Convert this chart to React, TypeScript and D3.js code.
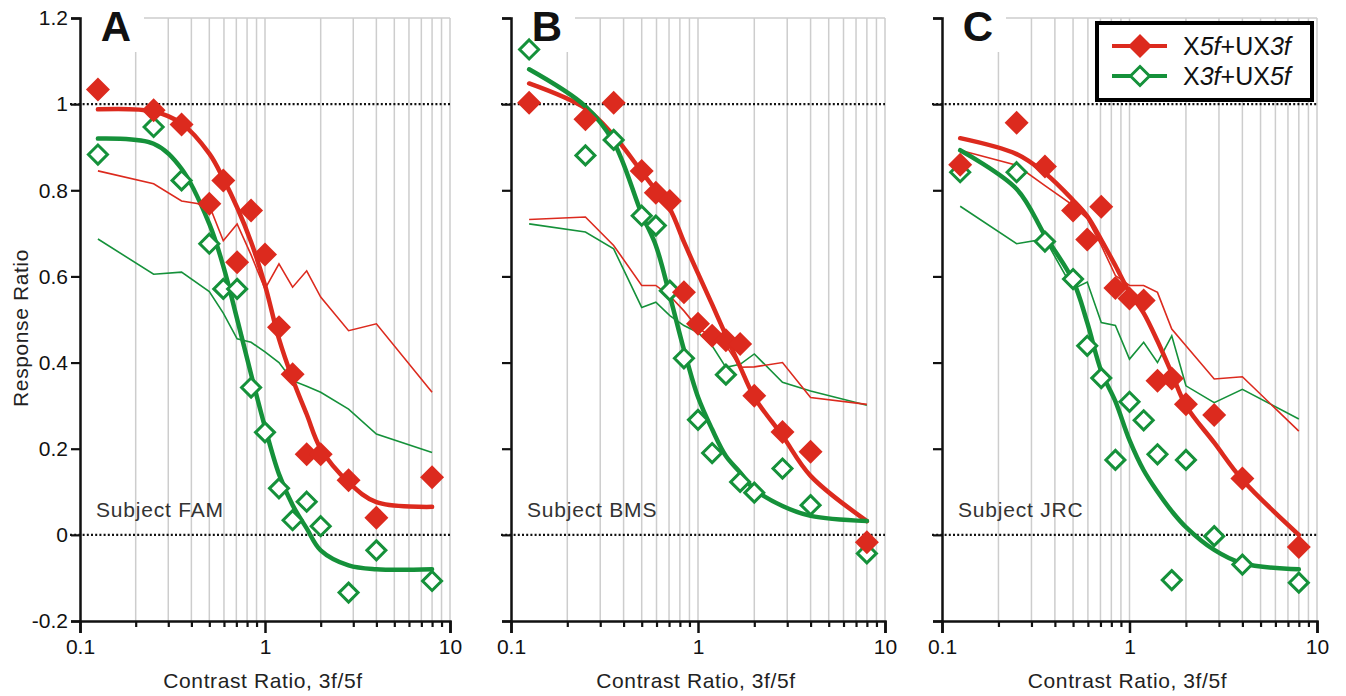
import { useEffect, useRef } from "react";
import * as d3 from "d3";

// contrast ratios (3f/5f) used in every panel
const RATIOS = [0.125, 0.25, 0.354, 0.5, 0.595, 0.707, 0.841, 1, 1.19, 1.41, 1.68, 2, 2.83, 4, 8];

// Subject FAM
const FAM_X5_PTS = [1.034, 0.986, 0.953, 0.769, 0.823, 0.633, 0.753, 0.651, 0.482, 0.373, 0.187, 0.187, 0.127, 0.04, 0.134];
const FAM_X3_PTS = [0.883, 0.947, 0.823, 0.676, 0.571, 0.571, 0.342, 0.238, 0.108, 0.034, 0.077, 0.02, -0.134, -0.036, -0.107];
const FAM_X5_FIT = [0.988, 0.983, 0.955, 0.885, 0.827, 0.76, 0.68, 0.58, 0.455, 0.362, 0.28, 0.2, 0.122, 0.076, 0.065];
const FAM_X3_FIT = [0.92, 0.908, 0.85, 0.722, 0.624, 0.501, 0.373, 0.25, 0.141, 0.069, 0.015, -0.036, -0.071, -0.08, -0.08];
const FAM_X5_MODEL = [0.845, 0.815, 0.775, 0.765, 0.683, 0.722, 0.65, 0.571, 0.629, 0.575, 0.613, 0.552, 0.474, 0.49, 0.331];
const FAM_X3_MODEL = [0.687, 0.605, 0.61, 0.565, 0.515, 0.455, 0.447, 0.425, 0.4, 0.358, 0.345, 0.331, 0.292, 0.234, 0.191];

// Subject BMS
const BMS_X5_PTS = [1.003, 0.965, 1.003, 0.845, 0.794, 0.775, 0.563, 0.49, 0.462, 0.452, 0.443, 0.323, 0.239, 0.193, -0.017];
const BMS_X3_PTS = [1.127, 0.881, 0.917, 0.741, 0.718, 0.567, 0.41, 0.267, 0.19, 0.372, 0.123, 0.098, 0.154, 0.069, -0.043];
const BMS_X5_FIT = [1.048, 0.99, 0.927, 0.843, 0.8, 0.757, 0.68, 0.607, 0.535, 0.463, 0.39, 0.32, 0.23, 0.137, 0.032];
const BMS_X3_FIT = [1.081, 0.995, 0.912, 0.745, 0.672, 0.555, 0.43, 0.32, 0.245, 0.183, 0.145, 0.106, 0.067, 0.044, 0.032];
const BMS_X5_MODEL = [0.732, 0.738, 0.672, 0.579, 0.579, 0.555, 0.52, 0.48, 0.46, 0.44, 0.389, 0.39, 0.4, 0.319, 0.303];
const BMS_X3_MODEL = [0.722, 0.703, 0.664, 0.528, 0.54, 0.509, 0.486, 0.47, 0.439, 0.389, 0.396, 0.42, 0.354, 0.334, 0.301];

// Subject JRC
const JRC_X5_PTS = [0.859, 0.957, 0.855, 0.753, 0.686, 0.762, 0.573, 0.549, 0.544, 0.358, 0.363, 0.303, 0.278, 0.131, -0.028];
const JRC_X3_PTS = [0.842, 0.842, 0.681, 0.594, 0.439, 0.364, 0.174, 0.309, 0.266, 0.187, -0.105, 0.174, -0.003, -0.069, -0.111];
const JRC_X5_FIT = [0.921, 0.884, 0.84, 0.777, 0.74, 0.685, 0.625, 0.563, 0.515, 0.45, 0.375, 0.3, 0.214, 0.128, 0.0];
const JRC_X3_FIT = [0.893, 0.803, 0.695, 0.59, 0.493, 0.38, 0.31, 0.22, 0.15, 0.1, 0.055, 0.018, -0.035, -0.066, -0.08];
const JRC_X5_MODEL = [0.893, 0.858, 0.811, 0.765, 0.734, 0.672, 0.602, 0.579, 0.579, 0.563, 0.478, 0.439, 0.362, 0.367, 0.241];
const JRC_X3_MODEL = [0.763, 0.676, 0.687, 0.571, 0.587, 0.493, 0.486, 0.408, 0.447, 0.4, 0.462, 0.346, 0.307, 0.338, 0.269];

const Y_TICKS = [-0.2, 0, 0.2, 0.4, 0.6, 0.8, 1, 1.2];
const Y_LABELS = ["-0.2", "0", "0.2", "0.4", "0.6", "0.8", "1", "1.2"];
const X_LABELS = [0.1, 1, 10];
const LETTERS = ["A", "B", "C"];
const SUBJECTS = ["Subject FAM", "Subject BMS", "Subject JRC"];

const RED = "#dc2a1e";
const GREEN = "#15913a";
const FONT = "'Liberation Sans', Arial, Helvetica, sans-serif";

const PANELS = [
  { left: 80, right: 450, x5: FAM_X5_PTS, x3: FAM_X3_PTS, f5: FAM_X5_FIT, f3: FAM_X3_FIT, m5: FAM_X5_MODEL, m3: FAM_X3_MODEL },
  { left: 511, right: 885, x5: BMS_X5_PTS, x3: BMS_X3_PTS, f5: BMS_X5_FIT, f3: BMS_X3_FIT, m5: BMS_X5_MODEL, m3: BMS_X3_MODEL },
  { left: 942, right: 1317, x5: JRC_X5_PTS, x3: JRC_X3_PTS, f5: JRC_X5_FIT, f3: JRC_X3_FIT, m5: JRC_X5_MODEL, m3: JRC_X3_MODEL },
];

const diamond = (cx: number, cy: number, r: number) =>
  `M${cx},${cy - r}L${cx + r},${cy}L${cx},${cy + r}L${cx - r},${cy}Z`;

export default function App() {
  const svgRef = useRef<SVGSVGElement>(null);

  useEffect(() => {
    const svg = d3.select(svgRef.current);
    svg.selectAll("*").remove();
    const W = 1346, H = 696;
    svg.attr("width", W).attr("height", H);
    svg.append("rect").attr("width", W).attr("height", H).attr("fill", "#fff");

    const y = d3.scaleLinear().domain([-0.2, 1.2]).range([621, 18]);

    PANELS.forEach((p, pi) => {
      const x = d3.scaleLog().domain([0.1, 10]).range([p.left, p.right]);
      const g = svg.append("g");

      // vertical grid at log ticks
      const gridVals = x.ticks().filter((v) => v > 0.1 + 1e-9);
      g.selectAll("line.grid")
        .data(gridVals)
        .join("line")
        .attr("x1", (d) => x(d)).attr("x2", (d) => x(d))
        .attr("y1", y(1.2)).attr("y2", y(-0.2))
        .attr("stroke", "#cdcdcd").attr("stroke-width", 1.5);
      g.append("line")
        .attr("x1", p.left).attr("x2", p.right)
        .attr("y1", y(1.2)).attr("y2", y(1.2))
        .attr("stroke", "#cdcdcd").attr("stroke-width", 1.5);

      // white patch behind panel letter
      g.append("rect")
        .attr("x", p.left + 2).attr("y", 0)
        .attr("width", 62).attr("height", 52)
        .attr("fill", "#fff");

      // dotted reference lines
      [1, 0].forEach((v) => {
        g.append("line")
          .attr("x1", p.left - 10).attr("x2", p.right)
          .attr("y1", y(v)).attr("y2", y(v))
          .attr("stroke", "#111").attr("stroke-width", 2.2)
          .attr("stroke-dasharray", "2,2.2");
      });

      // y axis
      const yAxis = g.append("g").attr("transform", `translate(${p.left},0)`)
        .call(d3.axisLeft(y).tickValues(Y_TICKS).tickSize(9).tickPadding(3)
          .tickFormat((_, i) => (pi === 0 ? Y_LABELS[i] : "")));
      yAxis.select(".domain").attr("stroke", "#111").attr("stroke-width", 2.5);
      yAxis.selectAll("line").attr("stroke", "#111").attr("stroke-width", 2.2);
      yAxis.selectAll("text").attr("font-family", FONT).attr("font-size", 21).attr("fill", "#111");

      // x axis: major ticks
      const xAxis = g.append("g").attr("transform", `translate(0,${y(-0.2)})`)
        .call(d3.axisBottom(x).tickValues(X_LABELS).tickSize(12).tickPadding(6)
          .tickFormat((d) => String(d)));
      xAxis.select(".domain").attr("stroke", "#111").attr("stroke-width", 2.5);
      xAxis.selectAll("line").attr("stroke", "#111").attr("stroke-width", 2.5);
      xAxis.selectAll("text").attr("font-family", FONT).attr("font-size", 21).attr("fill", "#111");
      // minor ticks
      const minorVals = x.ticks().filter((v) => !X_LABELS.includes(v));
      g.append("g").attr("transform", `translate(0,${y(-0.2)})`)
        .call(d3.axisBottom(x).tickValues(minorVals).tickSize(6).tickFormat(() => ""))
        .call((a) => {
          a.select(".domain").remove();
          a.selectAll("line").attr("stroke", "#111").attr("stroke-width", 2.2);
        });

      // x title
      g.append("text")
        .attr("x", (p.left + p.right) / 2 - 2).attr("y", 688)
        .attr("text-anchor", "middle")
        .attr("font-family", FONT).attr("font-size", 21).attr("fill", "#222")
        .attr("letter-spacing", 0.6)
        .text("Contrast Ratio, 3f/5f");

      // panel letter
      g.append("text")
        .attr("x", p.left + 36).attr("y", 41)
        .attr("text-anchor", "middle")
        .attr("font-family", FONT).attr("font-weight", "bold").attr("font-size", 42)
        .attr("fill", "#111")
        .text(LETTERS[pi]);

      // subject label
      g.append("text")
        .attr("x", p.left + 16).attr("y", 517)
        .attr("font-family", FONT).attr("font-size", 21).attr("fill", "#333")
        .attr("letter-spacing", 0.8)
        .text(SUBJECTS[pi]);

      const thin = d3.line<number>().x((_, i) => x(RATIOS[i])).y((d) => y(d));
      const smooth = d3.line<number>().x((_, i) => x(RATIOS[i])).y((d) => y(d))
        .curve(d3.curveCatmullRom.alpha(0.5));

      // thin model lines
      g.append("path").datum(p.m3).attr("d", thin).attr("fill", "none")
        .attr("stroke", GREEN).attr("stroke-width", 1.6);
      g.append("path").datum(p.m5).attr("d", thin).attr("fill", "none")
        .attr("stroke", RED).attr("stroke-width", 1.6);

      // thick fitted curves
      g.append("path").datum(p.f5).attr("d", smooth).attr("fill", "none")
        .attr("stroke", RED).attr("stroke-width", 4.5).attr("stroke-linecap", "round");
      g.append("path").datum(p.f3).attr("d", smooth).attr("fill", "none")
        .attr("stroke", GREEN).attr("stroke-width", 4.5).attr("stroke-linecap", "round");

      // open green diamonds
      g.selectAll("path.x3")
        .data(p.x3)
        .join("path")
        .attr("d", (d, i) => diamond(x(RATIOS[i]), y(d), 9.5))
        .attr("fill", "#fff").attr("stroke", GREEN).attr("stroke-width", 3);

      // filled red diamonds
      g.selectAll("path.x5")
        .data(p.x5)
        .join("path")
        .attr("d", (d, i) => diamond(x(RATIOS[i]), y(d), 12))
        .attr("fill", RED);
    });

    // y title
    svg.append("text")
      .attr("transform", "translate(28,328) rotate(-90)")
      .attr("text-anchor", "middle")
      .attr("font-family", FONT).attr("font-size", 21).attr("fill", "#222")
      .attr("letter-spacing", 0.6)
      .text("Response Ratio");

    // legend
    const lg = svg.append("g");
    lg.append("rect")
      .attr("x", 1097).attr("y", 23).attr("width", 215).attr("height", 77)
      .attr("fill", "#fff").attr("stroke", "#000").attr("stroke-width", 4);
    const rows = [
      { color: RED, filled: true, a: "5", b: "3", cy: 46 },
      { color: GREEN, filled: false, a: "3", b: "5", cy: 76 },
    ];
    rows.forEach((r) => {
      lg.append("line").attr("x1", 1112).attr("x2", 1167).attr("y1", r.cy).attr("y2", r.cy)
        .attr("stroke", r.color).attr("stroke-width", 4);
      lg.append("path")
        .attr("d", diamond(1140, r.cy, r.filled ? 12 : 9.5))
        .attr("fill", r.filled ? r.color : "#fff")
        .attr("stroke", r.filled ? "none" : r.color).attr("stroke-width", 3);
      const t = lg.append("text").attr("x", 1183).attr("y", r.cy + 9)
        .attr("font-family", FONT).attr("font-size", 25).attr("fill", "#111");
      t.append("tspan").text("X");
      t.append("tspan").attr("font-style", "italic").text(`${r.a}f`);
      t.append("tspan").text("+UX");
      t.append("tspan").attr("font-style", "italic").text(`${r.b}f`);
    });
  }, []);

  return <svg ref={svgRef} style={{ position: "absolute", left: 0, top: 0, display: "block" }} />;
}
